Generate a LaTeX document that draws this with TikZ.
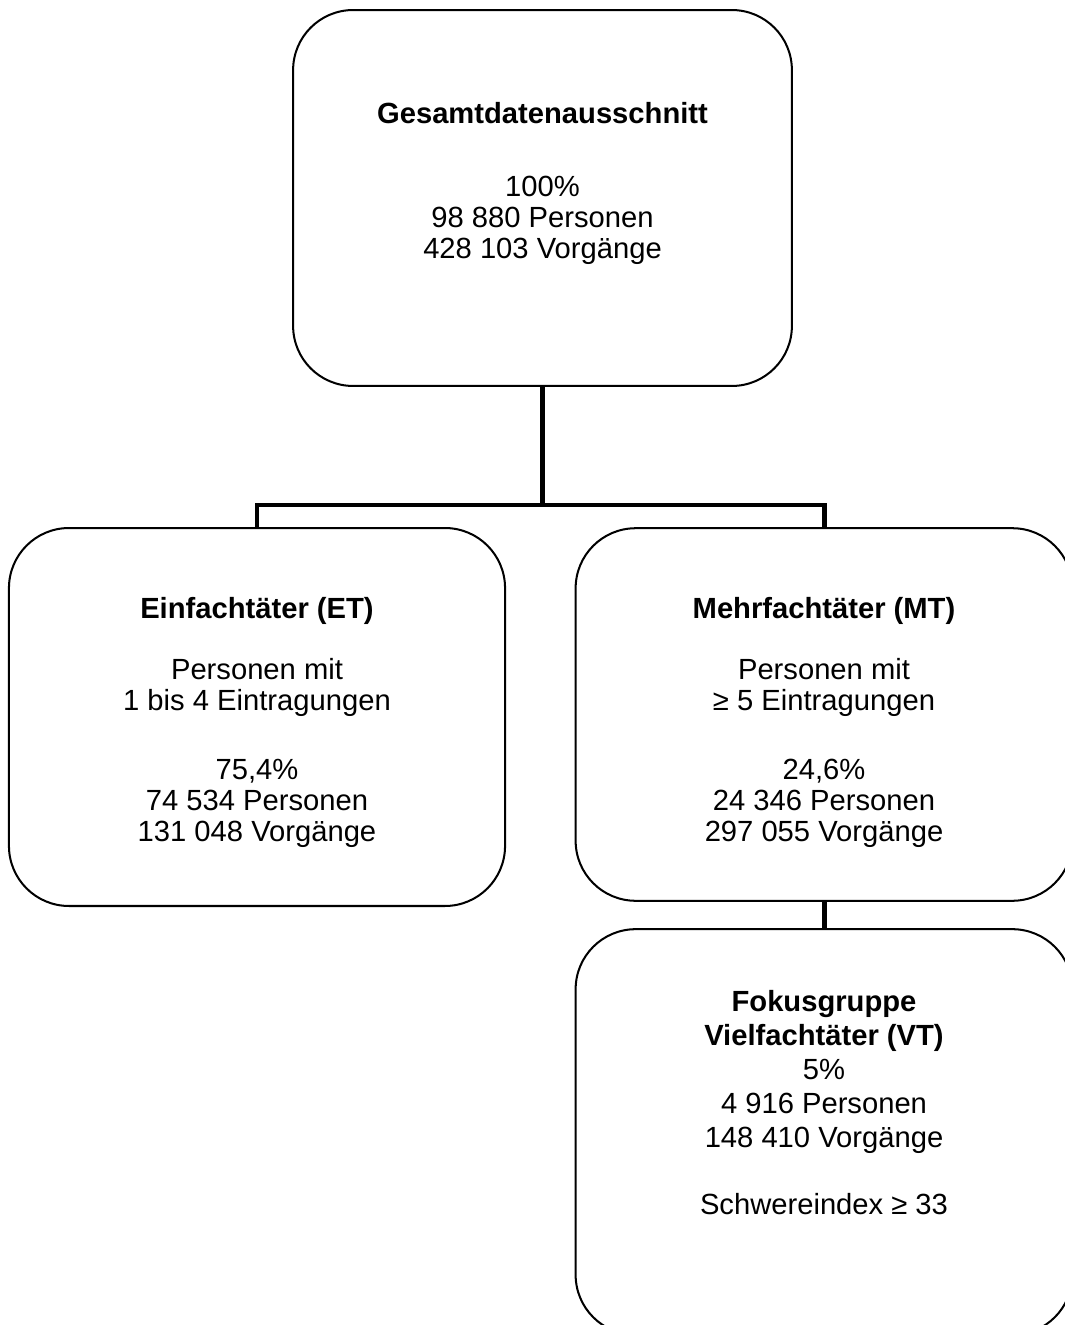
\documentclass[tikz,border=0pt]{standalone}
\usepackage{fontspec}
\setmainfont{Liberation Sans}
\usetikzlibrary{positioning}

\begin{document}
\begin{tikzpicture}[
  x=0.01481cm,
  y=-0.01481cm,
  box/.style={draw, line width=0.85pt, rounded corners=0.89cm, inner sep=0pt},
  boxtext/.style={align=center, inner sep=0pt, font=\fontsize{12.3}{13.1}\selectfont},
  conn/.style={line width=2.1pt},
]
\useasboundingbox (0,0) rectangle (1064,1325);

\node[box, minimum width=7.39cm, minimum height=5.57cm] (gesamt) at (542.5,198) {};
\node[boxtext, below=1.37cm of gesamt.north] (gesamttext)
  {\textbf{Gesamtdatenausschnitt}\\[17.7pt]
   100\%\\98 880 Personen\\428 103 Vorgänge};

\node[box, minimum width=7.35cm, minimum height=5.60cm] (einfach) at (257,717) {};
\node[boxtext, below=1.03cm of einfach.north] (einfachtext)
  {\textbf{Einfachtäter (ET)}\\[12.6pt]
   Personen mit\\1 bis 4 Eintragungen\\[16pt]
   75,4\%\\74 534 Personen\\131 048 Vorgänge};

\node[box, minimum width=7.36cm, minimum height=5.52cm] (mehr) at (824,714.5) {};
\node[boxtext, below=1.03cm of mehr.north] (mehrtext)
  {\textbf{Mehrfachtäter (MT)}\\[12.6pt]
   Personen mit\\≥ 5 Eintragungen\\[16pt]
   24,6\%\\24 346 Personen\\297 055 Vorgänge};

\node[box, minimum width=7.36cm, minimum height=6.01cm] (fokus) at (824,1132) {};
\node[boxtext, below=0.92cm of fokus.north] (fokustext)
  {\textbf{Fokusgruppe}\\[1.2pt]\textbf{Vielfachtäter (VT)}\\[1.2pt]
   5\%\\[1.2pt]4 916 Personen\\[1.2pt]148 410 Vorgänge\\[15pt]
   Schwereindex ≥ 33};

\coordinate (split) at (542.5,505);
\draw[conn] (gesamt.south) -- (split);
\draw[conn] (einfach.north) |- (split) -| (mehr.north);
\draw[conn] (mehr.south) -- (fokus.north);

\end{tikzpicture}
\end{document}
